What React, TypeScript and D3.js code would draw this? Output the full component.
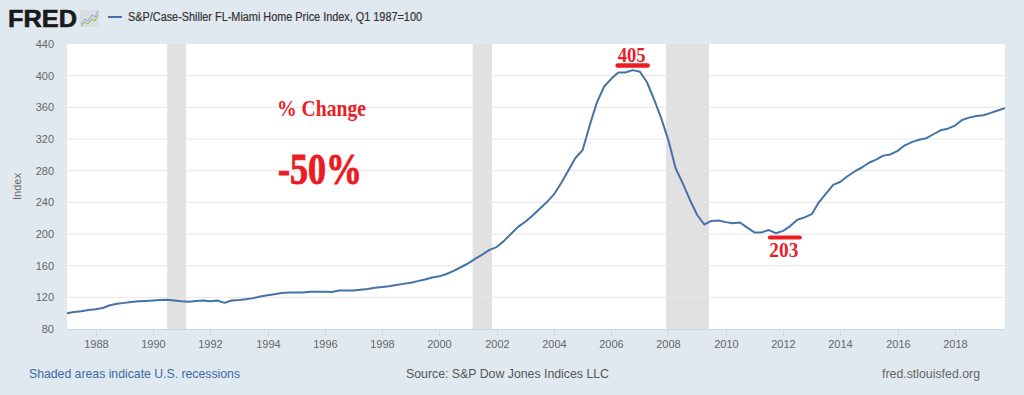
import React from "react";
import * as d3 from "d3";

// quarterly readings of the Miami Case-Shiller index (Q1 1987 = 100)
const dates = [
  "1987-01", "1987-04", "1987-07", "1987-10", "1988-01", "1988-04", "1988-07", "1988-10",
  "1989-01", "1989-04", "1989-07", "1989-10", "1990-01", "1990-04", "1990-07", "1990-10",
  "1991-01", "1991-04", "1991-07", "1991-10", "1992-01", "1992-04", "1992-07", "1992-10",
  "1993-01", "1993-04", "1993-07", "1993-10", "1994-01", "1994-04", "1994-07", "1994-10",
  "1995-01", "1995-04", "1995-07", "1995-10", "1996-01", "1996-04", "1996-07", "1996-10",
  "1997-01", "1997-04", "1997-07", "1997-10", "1998-01", "1998-04", "1998-07", "1998-10",
  "1999-01", "1999-04", "1999-07", "1999-10", "2000-01", "2000-04", "2000-07", "2000-10",
  "2001-01", "2001-04", "2001-07", "2001-10", "2002-01", "2002-04", "2002-07", "2002-10",
  "2003-01", "2003-04", "2003-07", "2003-10", "2004-01", "2004-04", "2004-07", "2004-10",
  "2005-01", "2005-04", "2005-07", "2005-10", "2006-01", "2006-04", "2006-07", "2006-10",
  "2007-01", "2007-04", "2007-07", "2007-10", "2008-01", "2008-04", "2008-07", "2008-10",
  "2009-01", "2009-04", "2009-07", "2009-10", "2010-01", "2010-04", "2010-07", "2010-10",
  "2011-01", "2011-04", "2011-07", "2011-10", "2012-01", "2012-04", "2012-07", "2012-10",
  "2013-01", "2013-04", "2013-07", "2013-10", "2014-01", "2014-04", "2014-07", "2014-10",
  "2015-01", "2015-04", "2015-07", "2015-10", "2016-01", "2016-04", "2016-07", "2016-10",
  "2017-01", "2017-04", "2017-07", "2017-10", "2018-01", "2018-04", "2018-07", "2018-10",
  "2019-01", "2019-04", "2019-07", "2019-10",
];

const values = [
  100, 101.5, 102.5, 104, 105, 106.5, 110, 112,
  113, 114, 115, 115.5, 116, 116.5, 117, 116,
  115, 114.5, 115.5, 116, 115, 116, 113, 116,
  116.5, 117.5, 119, 121, 122.5, 124, 125.5, 126,
  126, 126, 127, 127.2, 127, 126.8, 128.5, 128.5,
  128.5, 129.5, 130.5, 132, 133, 134, 135.5, 137,
  138.5, 140.5, 142.5, 145, 146.5, 149.5, 153.5, 158,
  163, 168.5, 174, 180, 183.5, 191, 200, 209,
  215.5, 223, 231.5, 240, 250, 264, 280, 296,
  306, 337, 366, 386, 396, 404, 404, 407,
  405, 392, 370, 346, 318, 283, 264, 243,
  224, 212, 216.5, 217, 215, 213.5, 214.5, 208,
  202, 202, 205, 201, 204, 210, 218, 221,
  225, 240, 251, 262, 266, 273, 279, 284,
  290, 294, 299, 300.5, 305, 312, 316, 319,
  321, 326, 331, 333, 337, 344, 347, 349,
  350, 353, 356, 359,
];

const recessions = [
  ["1990-07", "1991-03"],
  ["2001-03", "2001-11"],
  ["2007-12", "2009-06"],
];

const yTicks = [80, 120, 160, 200, 240, 280, 320, 360, 400, 440];
const xTickYears = [1988, 1990, 1992, 1994, 1996, 1998, 2000, 2002, 2004, 2006, 2008, 2010, 2012, 2014, 2016, 2018];

const seriesTitle = "S&P/Case-Shiller FL-Miami Home Price Index, Q1 1987=100";
const peakLabel = "405";
const troughLabel = "203";

const W = 1024;
const H = 395;
const margin = { top: 44, right: 19, bottom: 66, left: 67 };
const font = "Arial, 'Liberation Sans', sans-serif";
const serif = "'Liberation Serif', 'DejaVu Serif', serif";
const red = "#ec1c24";

export default function App() {
  const parse = d3.timeParse("%Y-%m");
  const data = dates.map((d, i) => ({ date: parse(d) as Date, value: values[i] }));

  const x = d3
    .scaleTime()
    .domain([parse("1987-01") as Date, parse("2019-10") as Date])
    .range([margin.left, W - margin.right]);
  const y = d3
    .scaleLinear()
    .domain([80, 440])
    .range([H - margin.bottom, margin.top]);

  const line = d3
    .line<{ date: Date; value: number }>()
    .x((d) => x(d.date))
    .y((d) => y(d.value));

  const peak = data.reduce((a, b) => (b.value > a.value ? b : a));
  const trough = data
    .filter((d) => d.date > (parse("2010-01") as Date))
    .reduce((a, b) => (b.value < a.value ? b : a));

  const bottom = H - margin.bottom;

  return (
    <svg
      width={W}
      height={H}
      style={{ position: "absolute", left: 0, top: 0, background: "#e1e9f0" }}
      fontFamily={font}
    >
      <rect width={W} height={H} fill="#e1e9f0" />

      {/* header */}
      <text x={8} y={27} fontSize={24} fontWeight="bold" fill="#1a1a1a" stroke="#1a1a1a" strokeWidth={0.6} textLength={69} lengthAdjust="spacingAndGlyphs">
        FRED
      </text>
      <rect x={80} y={10} width={19} height={17} fill="#d7dde3" />
      <polyline points="81,24 85,19 88,21 92,15 95,17 98,11" fill="none" stroke="#7fa9d6" strokeWidth={1} />
      <polyline points="81,26 85,22 88,24 92,19 95,21 98,15" fill="none" stroke="#8ab84a" strokeWidth={1} />
      <line x1={108} x2={122} y1={17} y2={17} stroke="#4572a7" strokeWidth={2} />
      <text x={128} y={21} fontSize={12} fill="#333" stroke="#333" strokeWidth={0.2} textLength={294} lengthAdjust="spacingAndGlyphs">
        {seriesTitle}
      </text>

      {/* plot background */}
      <rect x={margin.left} y={margin.top} width={W - margin.left - margin.right} height={bottom - margin.top} fill="#fff" />

      {/* recessions */}
      {recessions.map(([s, e]) => (
        <rect
          key={s}
          x={x(parse(s) as Date)}
          y={margin.top}
          width={x(parse(e) as Date) - x(parse(s) as Date)}
          height={bottom - margin.top}
          fill="#e1e1e1"
        />
      ))}

      {/* grid + y labels */}
      {yTicks.map((t) => (
        <g key={t}>
          {t > 80 && t < 440 && (
            <line x1={margin.left} x2={W - margin.right} y1={y(t)} y2={y(t)} stroke="#e6e6e6" strokeWidth={1} />
          )}
          <text x={54} y={y(t)} dy="0.35em" textAnchor="end" fontSize={11} fill="#666">
            {t}
          </text>
        </g>
      ))}
      <text transform={`translate(21, ${(margin.top + bottom) / 2}) rotate(-90)`} textAnchor="middle" fontSize={11} fill="#666">
        Index
      </text>

      {/* x axis */}
      <line x1={margin.left} x2={W - margin.right} y1={bottom + 0.5} y2={bottom + 0.5} stroke="#ccd6eb" />
      {xTickYears.map((yr) => {
        const px = Math.round(x(new Date(yr, 0, 1))) + 0.5;
        return (
          <g key={yr}>
            <line x1={px} x2={px} y1={bottom} y2={bottom + 7} stroke="#ccd6eb" />
            <text x={px} y={347.5} textAnchor="middle" fontSize={11} fill="#666">
              {yr}
            </text>
          </g>
        );
      })}

      {/* series */}
      <path d={line(data) ?? ""} fill="none" stroke="#4572a7" strokeWidth={2} strokeLinejoin="round" />

      {/* annotations */}
      <text x={277} y={116} fontSize={23} fontWeight="bold" fill={red} fontFamily={serif} textLength={89} lengthAdjust="spacingAndGlyphs">
        % Change
      </text>
      <text x={278} y={184} fontSize={45} fontWeight="bold" fill={red} stroke={red} strokeWidth={1} fontFamily={serif} textLength={84} lengthAdjust="spacingAndGlyphs">
        -50%
      </text>

      <text x={x(peak.date) - 1} y={62} textAnchor="middle" fontSize={21} fontWeight="bold" fill={red} fontFamily={serif} textLength={28} lengthAdjust="spacingAndGlyphs">
        {peakLabel}
      </text>
      <line x1={x(peak.date) - 15} x2={x(peak.date) + 15} y1={65.5} y2={65.5} stroke={red} strokeWidth={4.5} strokeLinecap="round" />

      <line x1={x(trough.date) - 6} x2={x(trough.date) + 24} y1={237.5} y2={237.5} stroke={red} strokeWidth={4} strokeLinecap="round" />
      <text x={x(trough.date) + 8} y={257} textAnchor="middle" fontSize={21} fontWeight="bold" fill={red} fontFamily={serif} textLength={29} lengthAdjust="spacingAndGlyphs">
        {troughLabel}
      </text>

      {/* footer */}
      <text x={29} y={378} fontSize={13} fill="#3d6aa5" textLength={211} lengthAdjust="spacingAndGlyphs">
        Shaded areas indicate U.S. recessions
      </text>
      <text x={406} y={378} fontSize={13} fill="#555" textLength={203} lengthAdjust="spacingAndGlyphs">
        Source: S&amp;P Dow Jones Indices LLC
      </text>
      <text x={882} y={378} fontSize={13} fill="#666" textLength={98} lengthAdjust="spacingAndGlyphs">
        fred.stlouisfed.org
      </text>
    </svg>
  );
}
